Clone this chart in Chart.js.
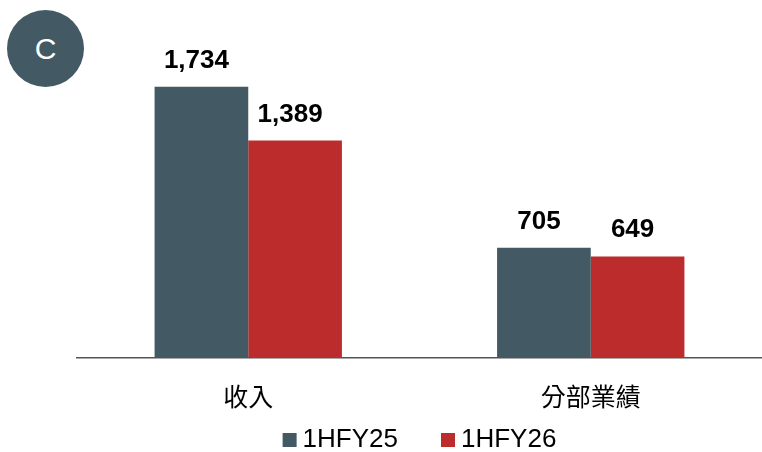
<!DOCTYPE html>
<html>
<head>
<meta charset="utf-8">
<script src="https://cdn.jsdelivr.net/npm/chart.js@4/dist/chart.umd.min.js"></script>
<style>
  html, body { margin: 0; padding: 0; background: #fff; }
  #wrap { position: relative; width: 762px; height: 452px; }
  #badge {
    position: absolute; left: 7px; top: 10px; width: 77px; height: 77px;
    border-radius: 50%; background: #435a64; color: #fff;
    font: 30px 'Liberation Sans', Arial, sans-serif;
    display: flex; align-items: center; justify-content: center;
  }
</style>
</head>
<body>
<div id="wrap">
  <canvas id="chart" width="762" height="452"></canvas>
  <div id="badge">C</div>
</div>
<script>
const categories = ['收入', '分部業績'];
const fy25 = [1734, 705];
const fy26 = [1389, 649];
const seriesNames = ['1HFY25', '1HFY26'];
const colors = ['#435a64', '#bd2c2d'];

const FONT = "'Liberation Sans', 'Noto Sans CJK TC', Arial, sans-serif";

// value labels above each bar
const barLabels = {
  id: 'barLabels',
  afterDatasetsDraw(chart) {
    const ctx = chart.ctx;
    ctx.save();
    ctx.fillStyle = '#000';
    ctx.font = 'bold 26px ' + FONT;
    ctx.textAlign = 'center';
    ctx.textBaseline = 'alphabetic';
    chart.data.datasets.forEach((ds, i) => {
      chart.getDatasetMeta(i).data.forEach((bar, j) => {
        ctx.fillText(ds.data[j].toLocaleString('en-US'), bar.x - 5, bar.y - 19);
      });
    });
    ctx.restore();
  }
};

// legend drawn under the axis, centred on the plot area
const bottomLegend = {
  id: 'bottomLegend',
  afterDraw(chart) {
    const ctx = chart.ctx;
    const box = 14, gap = 6, spacing = 43, y = 440;
    ctx.save();
    ctx.font = '26px ' + FONT;
    ctx.textBaseline = 'middle';
    const items = chart.data.datasets.map(ds => ({
      text: ds.label, color: ds.backgroundColor, w: ctx.measureText(ds.label).width
    }));
    const total = items.reduce((s, it) => s + box + gap + it.w, 0) + spacing * (items.length - 1);
    let x = (chart.chartArea.left + chart.chartArea.right) / 2 - total / 2;
    items.forEach(it => {
      ctx.fillStyle = it.color;
      ctx.fillRect(x, y - box / 2, box, box);
      ctx.fillStyle = '#000';
      ctx.fillText(it.text, x + box + gap, y);
      x += box + gap + it.w + spacing;
    });
    ctx.restore();
  }
};

new Chart(document.getElementById('chart'), {
  type: 'bar',
  data: {
    labels: categories,
    datasets: [
      { label: seriesNames[0], data: fy25, backgroundColor: colors[0] },
      { label: seriesNames[1], data: fy26, backgroundColor: colors[1] }
    ]
  },
  options: {
    responsive: false,
    animation: false,
    layout: { padding: { left: 77, right: 0, top: 45, bottom: 20 } },
    datasets: { bar: { barPercentage: 1, categoryPercentage: 0.547 } },
    scales: {
      x: {
        grid: { display: false },
        border: { display: true, color: '#555', width: 1.5 },
        ticks: { color: '#000', font: { family: FONT, size: 25 }, padding: 18 }
      },
      y: { display: false, min: 0, max: 2000 }
    },
    plugins: {
      legend: { display: false },
      tooltip: { enabled: false }
    }
  },
  plugins: [barLabels, bottomLegend]
});
</script>
</body>
</html>
